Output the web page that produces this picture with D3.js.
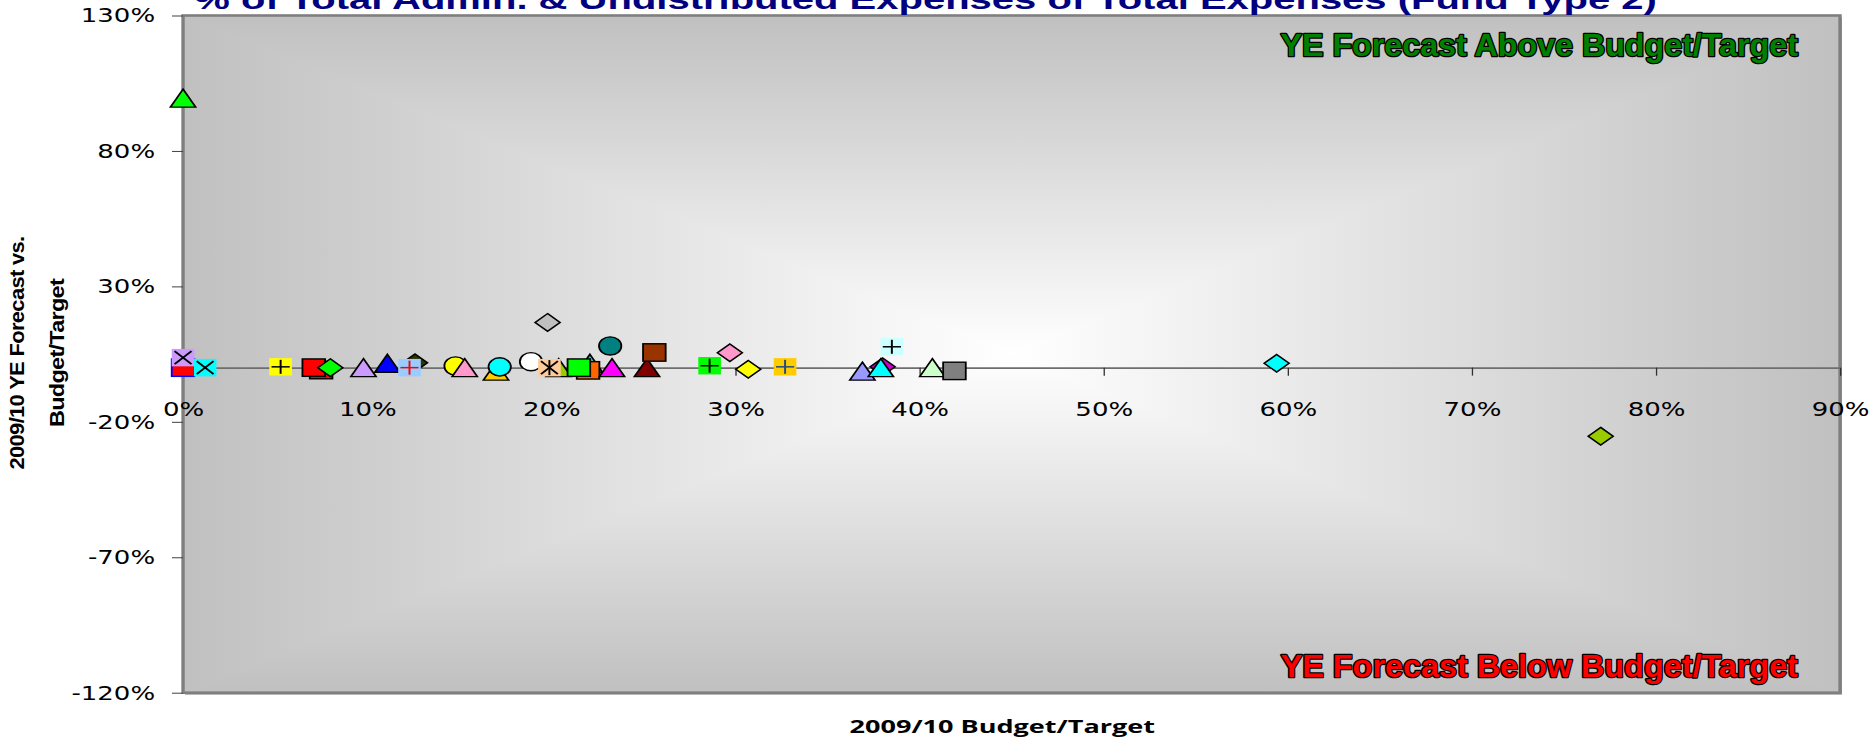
<!DOCTYPE html>
<html><head><meta charset="utf-8">
<script src="https://cdn.jsdelivr.net/npm/d3@7"></script>
<style>html,body{margin:0;padding:0;background:#fff;} svg{display:block;}</style>
</head><body>
<svg id="chart" width="1872" height="743"></svg>
<script>
// ---------- data ----------
const chartTitle = "% of Total Admin. & Undistributed Expenses of Total Expenses (Fund Type 2)";
const xAxisTitle = "2009/10 Budget/Target";
const yAxisTitle = ["2009/10 YE Forecast vs.", "Budget/Target"];
const aboveLabel = "YE Forecast Above Budget/Target";
const belowLabel = "YE Forecast Below Budget/Target";
const xTickValues = [0, 0.1, 0.2, 0.3, 0.4, 0.5, 0.6, 0.7, 0.8, 0.9];
const yTickValues = [1.3, 0.8, 0.3, -0.2, -0.7, -1.2];

// x: 2009/10 budget share, y: YE forecast vs budget
const budgetShare = [0.000, 0.000, 0.012, 0.053, 0.075, 0.071, 0.080, 0.098, 0.126, 0.111,
                     0.123, 0.148, 0.170, 0.153, 0.172, 0.189, 0.198, 0.204, 0.199, 0.221,
                     0.220, 0.215, 0.233, 0.232, 0.252, 0.256, 0.286, 0.297, 0.307, 0.327,
                     0.369, 0.380, 0.379, 0.385, 0.407, 0.419, 0.594, 0.770, 0.000];
const forecastVar = [0.000, 0.037, 0.000, 0.003, -0.009, 0.000, 0.000, 0.000, 0.018, 0.016,
                     0.000, 0.006, -0.013, 0.000, 0.003, 0.022, 0.167, 0.000, 0.000, 0.016,
                     -0.010, 0.000, 0.000, 0.080, 0.000, 0.056, 0.007, 0.055, -0.006, 0.003,
                     -0.013, 0.003, 0.000, 0.077, 0.000, -0.012, 0.016, -0.253, 0.995];
// marker styling, one entry per point
const markerShape = ["square","x","x","plus","square","square","diamond","triangle","diamond","triangle",
                     "plus","circle","triangle","triangle","circle","circle","diamond","triangle","star","triangle",
                     "square","square","triangle","circle","triangle","square","plus","diamond","diamond","plus",
                     "triangle","diamond","triangle","plus","triangle","square","diamond","diamond","triangle"];
const markerFill  = ["#ff0000","#cc99ff","#00ffff","#ffff00","#ff0000","#ff0000","#00ff00","#cc99ff","#333300","#0000ff",
                     "#99ccff","#ffff00","#ffcc00","#ff99cc","#00ffff","#ffffff","#c0c0c0","#99cc00","#ffcc99","#33cccc",
                     "#ff6600","#00ff00","#ff00ff","#008080","#800000","#993300","#00ff00","#ff99cc","#ffff00","#ffcc00",
                     "#9999ff","#cc00cc","#00ffff","#ccffff","#ccffcc","#808080","#00ffff","#99cc00","#00ff00"];
const markerEdge  = ["#0000ff","none","none","none","#000","#000","#000","#000","#000","#000",
                     "none","#000","#000","#000","#000","#000","#000","#000","none","#000",
                     "#000","#000","#000","#000","#000","#000","none","#000","#000","none",
                     "#000","#000","#000","none","#000","#000","#000","#000","#000"];
const markerGlyph = ["","#000","#000","#000","","","","","","",
                     "#ff0000","","","","","","","","#000","",
                     "","","","","","","#000","","","#1f4e79",
                     "","","","#000","","","","",""];

// ---------- layout (drawn in an inner space stretched horizontally) ----------
const SX = 1.3;
const plot = {left: 140.8, right: 1415.4, top: 15.5, bottom: 692.7};
const svg = d3.select("#chart");
const root = svg.append("g").attr("transform", `scale(${SX},1)`);
const x = d3.scaleLinear().domain([0, 0.9]).range([plot.left, plot.right]);
const y = d3.scaleLinear().domain([-1.2, 1.3]).range([plot.bottom, plot.top]);
const pct = d => Math.round(d * 100) + "%";

// ---------- plot background: rectangular "from centre" gradient ----------
const defs = svg.append("defs");
const L = plot.left, R = plot.right, T = plot.top, B = plot.bottom;
const cx = (L + R) / 2, cy = (T + B) / 2;
const pieces = [
  {id: "gT", pts: [[L,T],[R,T],[cx,cy]], g: [cx, T, cx, cy]},
  {id: "gB", pts: [[L,B],[R,B],[cx,cy]], g: [cx, B, cx, cy]},
  {id: "gL", pts: [[L,T],[L,B],[cx,cy]], g: [L, cy, cx, cy]},
  {id: "gR", pts: [[R,T],[R,B],[cx,cy]], g: [R, cy, cx, cy]}
];
pieces.forEach(p => {
  const lg = defs.append("linearGradient").attr("id", p.id).attr("gradientUnits", "userSpaceOnUse")
    .attr("x1", p.g[0]).attr("y1", p.g[1]).attr("x2", p.g[2]).attr("y2", p.g[3]);
  lg.append("stop").attr("offset", 0).attr("stop-color", "#c0c0c0");
  lg.append("stop").attr("offset", 1).attr("stop-color", "#ffffff");
});
// shadow
root.append("rect").attr("x", L + 1.5).attr("y", T + 2).attr("width", R - L).attr("height", B - T)
  .attr("fill", "#9a9a9a");
root.append("rect").attr("x", L).attr("y", T).attr("width", R - L).attr("height", B - T).attr("fill", "#e0e0e0");
root.selectAll("polygon.bg").data(pieces).join("polygon").attr("class", "bg")
  .attr("points", d => d.pts.map(p => p.join(",")).join(" "))
  .attr("fill", d => `url(#${d.id})`).attr("shape-rendering", "crispEdges");
root.append("rect").attr("x", L).attr("y", T).attr("width", R - L).attr("height", B - T)
  .attr("fill", "none").attr("stroke", "#7f7f7f").attr("stroke-width", 2.6);

// ---------- axes ----------
const yAxis = root.append("g").attr("transform", `translate(${plot.left},0)`)
  .call(d3.axisLeft(y).tickValues(yTickValues).tickFormat(pct).tickSize(8.5).tickPadding(13));
yAxis.select(".domain").remove();
yAxis.selectAll("line").attr("stroke", "#404040").attr("stroke-width", 1);
yAxis.selectAll("text").attr("font-family", "DejaVu Sans").attr("font-size", 20).attr("fill", "#000");

const xAxis = root.append("g").attr("transform", `translate(0,${y(0)})`)
  .call(d3.axisBottom(x).tickValues(xTickValues).tickFormat(pct).tickSize(8).tickPadding(26).tickSizeOuter(0));
xAxis.select(".domain").attr("stroke", "#6e6e6e").attr("stroke-width", 1.6);
xAxis.selectAll("line").attr("stroke", "#303030").attr("stroke-width", 1);
xAxis.selectAll("text").attr("font-family", "DejaVu Sans").attr("font-size", 20).attr("fill", "#000");

// ---------- markers ----------
const points = budgetShare.map((b, i) => ({
  x: b, y: forecastVar[i], shape: markerShape[i], fill: markerFill[i], edge: markerEdge[i], glyph: markerGlyph[i]
}));
const sw = 1.4;
root.append("g").selectAll("g.pt").data(points).join("g").attr("class", "pt")
  .attr("transform", d => `translate(${x(d.x)},${y(d.y)})`)
  .each(function(d) {
    const s = d3.select(this);
    if (d.shape === "square") {
      s.append("rect").attr("x", -8.7).attr("y", -8.7).attr("width", 17.4).attr("height", 17.4)
        .attr("fill", d.fill).attr("stroke", d.edge).attr("stroke-width", sw);
    } else if (d.shape === "diamond") {
      s.append("path").attr("d", "M0,-8.8L9.6,0L0,8.8L-9.6,0Z")
        .attr("fill", d.fill).attr("stroke", d.edge).attr("stroke-width", sw).attr("stroke-linejoin", "miter");
    } else if (d.shape === "triangle") {
      s.append("path").attr("d", "M0,-9L9.7,9L-9.7,9Z")
        .attr("fill", d.fill).attr("stroke", d.edge).attr("stroke-width", sw);
    } else if (d.shape === "circle") {
      s.append("ellipse").attr("rx", 8.6).attr("ry", 9.1)
        .attr("fill", d.fill).attr("stroke", d.edge).attr("stroke-width", sw);
    } else {
      s.append("rect").attr("x", -8.7).attr("y", -8.7).attr("width", 17.4).attr("height", 17.4).attr("fill", d.fill);
      const segs = [];
      if (d.shape === "x" || d.shape === "star") segs.push([-6.5,-6.5,6.5,6.5], [-6.5,6.5,6.5,-6.5]);
      if (d.shape === "plus") segs.push([-7,0,7,0], [0,-7,0,7]);
      if (d.shape === "star") segs.push([0,-7.5,0,7.5]);
      segs.forEach(c => s.append("line").attr("x1", c[0]).attr("y1", c[1]).attr("x2", c[2]).attr("y2", c[3])
        .attr("stroke", d.glyph).attr("stroke-width", 1.5));
    }
  });

// ---------- texts ----------
root.append("text").text(chartTitle)
  .attr("x", 712).attr("y", 8.5).attr("text-anchor", "middle")
  .attr("font-family", "Liberation Sans, Arial, sans-serif").attr("font-weight", "bold").attr("font-size", 28)
  .attr("fill", "#000080").attr("textLength", 1125).attr("lengthAdjust", "spacingAndGlyphs");

// callouts: natural text horizontally condensed to the target width
const callout = (txt, yPos, color) => {
  const t = root.append("text").text(txt)
    .attr("text-anchor", "end")
    .attr("font-family", "Liberation Sans, Arial, sans-serif").attr("font-weight", "bold")
    .attr("font-size", 32).attr("fill", color).attr("stroke", "#000").attr("stroke-width", 2.6)
    .attr("paint-order", "stroke").attr("stroke-linejoin", "round");
  const natural = t.node().getComputedTextLength();
  t.attr("transform", `translate(1383,${yPos}) scale(${398 / natural},1)`);
};
callout(aboveLabel, 56, "#008000");
callout(belowLabel, 677, "#ff0000");

root.append("text").text(xAxisTitle)
  .attr("x", 771).attr("y", 733).attr("text-anchor", "middle")
  .attr("font-family", "Open Sans, sans-serif").attr("font-weight", "bold").attr("font-size", 17)
  .attr("fill", "#000").attr("textLength", 235).attr("lengthAdjust", "spacingAndGlyphs");

const yTitleX = [18.5, 49];
const yTitleLen = [233, 148];
yAxisTitle.forEach((t, i) => root.append("text").text(t)
  .attr("transform", `translate(${yTitleX[i]},353) rotate(-90)`).attr("text-anchor", "middle")
  .attr("font-family", "Liberation Sans, Arial, sans-serif").attr("font-weight", "bold").attr("font-size", 16)
  .attr("fill", "#000").attr("letter-spacing", -0.5)
  .attr("textLength", yTitleLen[i]).attr("lengthAdjust", "spacingAndGlyphs"));
</script>
</body></html>
